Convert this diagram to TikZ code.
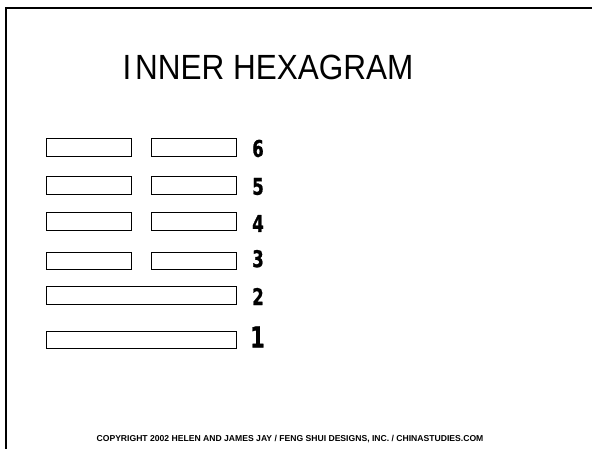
\documentclass[tikz,border=0pt]{standalone}
\usepackage{fontspec}
\setmainfont{Liberation Sans}
\newfontfamily\heavyfont[BoldFeatures={FakeBold=1.2}]{DejaVu Sans}
\begin{document}
\begin{tikzpicture}[x=1pt,y=-1pt,line width=.6pt,
  yao/.style={draw,inner sep=0pt,minimum height=17.7pt,anchor=north west},
  yin/.style={yao,minimum width=84.7pt},
  yang/.style={yao,minimum width=189.7pt},
  linenum/.style={font=\heavyfont\bfseries\fontsize{23}{23}\selectfont,xscale=.72,inner sep=0pt}]
\useasboundingbox (0,0) rectangle (592,449);
\draw[line width=2pt] (5.5,449)--(5.5,8.5)--(592,8.5);
\node[font=\fontsize{35}{35}\selectfont,xscale=.9,inner sep=0pt] (title) at (268,67.5) {I\kern4pt NNER HEXAGRAM};
% broken lines, top to bottom
\node[yin] (l6a) at (46,138.3) {};
\node[yin] (l6b) at (151,138.3) {};
\node[yin] (l5a) at (46,176) {};
\node[yin] (l5b) at (151,176) {};
\node[yin] (l4a) at (46,212.3) {};
\node[yin] (l4b) at (151,212.3) {};
\node[yin] (l3a) at (46,251.7) {};
\node[yin] (l3b) at (151,251.7) {};
% solid lines
\node[yang] (l2) at (46,286) {};
\node[yang] (l1) at (46,330.7) {};
% line numbers
\node[linenum] (n6) at (258,148.5) {6};
\node[linenum] (n5) at (258,186.5) {5};
\node[linenum] (n4) at (258,223.5) {4};
\node[linenum] (n3) at (258,258.7) {3};
\node[linenum] (n2) at (258,296.5) {2};
\node[linenum,font=\heavyfont\bfseries\fontsize{29}{29}\selectfont] (n1) at (257.5,337) {1};
\node[font=\bfseries\fontsize{8.6}{8.6}\selectfont,inner sep=0pt] (copy) at (290,439)
  {COPYRIGHT 2002 HELEN AND JAMES JAY / FENG SHUI DESIGNS, INC. / CHINASTUDIES.COM};
\end{tikzpicture}
\end{document}
